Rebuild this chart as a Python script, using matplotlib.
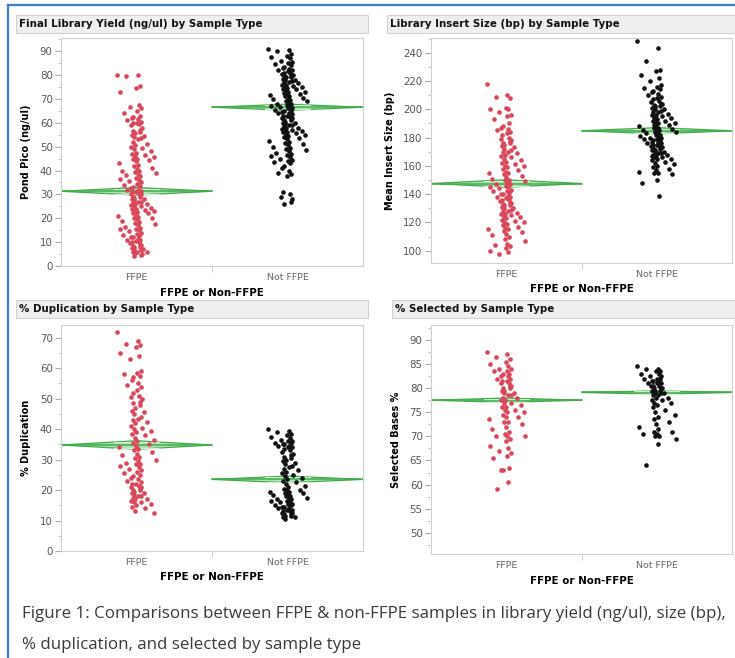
import numpy as np
import matplotlib.pyplot as plt
from matplotlib.patches import Rectangle, Polygon
from matplotlib.lines import Line2D
from matplotlib.ticker import FixedLocator

# groups on the x axis
groups = ["FFPE", "Not FFPE"]

# Final library yield (ng/ul)
yield_ffpe = [80.2, 80, 79.5, 75.5, 74.5, 73, 67.5, 66.5, 66, 65, 64, 63, 62.5, 62, 61.5, 61, 60.5, 60, 60,
              59.5, 59, 58, 57, 56.5, 56, 55.5, 55, 54.5, 54, 53.5, 53, 52, 51, 50.5, 50, 49.5, 49, 48, 47.5,
              47, 46.5, 46, 45.5, 45, 45, 44.5, 44, 43, 42.5, 42, 41, 40.5, 40, 40, 39.5, 39, 38.5, 38, 37.5,
              37, 36.5, 36, 35.5, 35, 34.5, 34, 33.5, 33, 32.5, 32, 32, 31.5, 31, 31, 30.5, 30, 30, 29.5, 29,
              29, 28.5, 28, 28, 27.5, 27, 27, 26.5, 26, 26, 25.5, 25, 25, 24.5, 24, 24, 23.5, 23, 23, 22.5,
              22, 22, 21.5, 21, 20.5, 20, 20, 19.5, 19, 18.5, 18, 17.5, 17, 16.5, 16, 15.5, 15.5, 15, 14.5,
              14, 13.5, 13, 12.5, 12, 12, 11.5, 11, 11, 10.5, 10, 10, 9.5, 9, 9, 8.5, 8, 8, 7.5, 7, 7, 6.5,
              6, 6, 6, 5.5, 5, 4.5, 4]
yield_non = [91, 90.5, 90, 89, 88, 87.5, 87, 86, 85.5, 85, 84.5, 84, 83.5, 83, 82.5, 82, 82, 81.5, 81, 81,
             80.5, 80, 80, 79.5, 79, 79, 78.5, 78, 78, 77.5, 77, 77, 76.5, 76, 76, 75.5, 75, 75, 74.5, 74, 74,
             73.5, 73, 73, 72.5, 72, 72, 71.5, 71, 71, 70.5, 70, 70, 69.5, 69, 69, 68.5, 68, 68, 67.5, 67, 67,
             66.5, 66, 66, 65.5, 65, 65, 64.5, 64, 64, 63.5, 63, 63, 62.5, 62, 62, 61.5, 61, 61, 60.5, 60, 60,
             59.5, 59, 59, 58.5, 58, 58, 57.5, 57, 57, 56.5, 56, 56, 55.5, 55, 55, 54.5, 54, 53.5, 53, 52.5,
             52, 51.5, 51, 50.5, 50, 49.5, 49, 48.5, 48, 47.5, 47, 46.5, 46, 45.5, 45, 44.5, 44, 43.5, 43,
             42, 41, 40, 39, 38.5, 37.5, 31, 30, 29, 28, 27, 26]

# Mean insert size (bp)
insert_ffpe = [218, 210, 209, 208, 201, 200, 200, 198, 196, 195, 193, 190, 188, 187, 186, 185, 184, 183, 182,
               180, 179, 178, 177, 176, 176, 175, 174, 173, 172, 171, 170, 170, 169, 168, 167, 166, 165, 164,
               163, 162, 161, 160, 160, 159, 158, 157, 156, 155, 155, 154, 153, 152, 151, 150, 150, 149, 148,
               147, 147, 146, 145, 145, 144, 143, 142, 142, 141, 140, 140, 139, 138, 138, 137, 136, 136, 135,
               134, 134, 133, 132, 132, 131, 130, 130, 129, 128, 128, 127, 126, 126, 125, 124, 124, 123, 122,
               121, 120, 120, 119, 118, 117, 116, 115, 115, 114, 113, 112, 111, 110, 108, 107, 105, 104, 103,
               102, 100, 99, 98]
insert_non = [248, 243, 234, 228, 227, 224, 222, 220, 217, 216, 215, 214, 213, 212, 211, 210, 209, 208, 207,
              206, 205, 204, 204, 203, 202, 202, 201, 200, 200, 199, 198, 198, 197, 196, 196, 195, 194, 194,
              193, 192, 192, 191, 190, 190, 189, 189, 188, 188, 187, 187, 186, 186, 185, 185, 184, 184, 183,
              183, 182, 182, 181, 181, 180, 180, 179, 179, 178, 178, 177, 177, 176, 176, 175, 175, 174, 174,
              173, 173, 172, 172, 171, 171, 170, 170, 169, 169, 168, 168, 167, 167, 166, 166, 165, 165, 164,
              163, 162, 161, 160, 159, 158, 157, 156, 155, 155, 154, 150, 148, 139]

# % duplication
dup_ffpe = [72, 69, 68, 67.5, 67, 65, 64, 63, 59, 58.5, 58, 57.5, 57, 56, 55, 54.5, 54, 53, 52, 51, 50.5, 50,
            49, 48.5, 48, 47, 46, 45.5, 45, 44, 43.5, 43, 42.5, 42, 41, 40.5, 40, 39.5, 39, 38.5, 38, 37, 36.5,
            36, 35.5, 35, 34.5, 34, 33.5, 33, 32.5, 32, 31.5, 31, 30.5, 30, 29.5, 29, 28.5, 28.5, 28, 27.5, 27,
            26.5, 26, 25.5, 25, 24.5, 24, 23.5, 23, 22.5, 22, 22, 21.5, 21, 21, 20.5, 20, 20, 19.5, 19, 19,
            18.5, 18, 18, 17.5, 17, 17, 16.5, 16, 16, 15.5, 15, 14.5, 14, 13, 12.5]
dup_non = [40, 39.5, 39, 38.5, 38, 37.5, 37, 36.5, 36, 36, 35.5, 35.5, 35, 35, 34.5, 34.5, 34, 34, 33.5, 33,
           32.5, 32, 31.5, 31, 30.5, 30, 29.5, 29, 28.5, 28, 27.5, 27, 26.5, 26, 25.5, 25, 24.5, 24, 23.5, 23,
           22.5, 22, 21.5, 21, 20.5, 20, 20, 19.5, 19.5, 19, 19, 18.5, 18.5, 18, 18, 17.5, 17.5, 17, 17, 16.5,
           16.5, 16, 16, 15.5, 15.5, 15, 15, 14.5, 14.5, 14, 14, 13.5, 13.5, 13, 13, 12.5, 12.5, 12, 12, 11.5,
           11.5, 11, 11, 10.5]

# selected bases %
sel_ffpe = [87.5, 87, 86.5, 86, 85.5, 85, 84.5, 84, 84, 83.5, 83.5, 83, 83, 82.5, 82.5, 82, 82, 81.5, 81.5,
            81, 81, 80.5, 80.5, 80, 80, 79.5, 79.5, 79, 79, 78.5, 78.5, 78, 78, 77.5, 77.5, 77, 77, 76.5, 76,
            76, 75.5, 75.5, 75, 75, 74.5, 74, 74, 73.5, 73, 73, 72.5, 72, 71.5, 71, 70.5, 70, 70, 70, 69.5, 69,
            68, 67.5, 67, 66.5, 66, 65.5, 63.5, 63, 63, 60.5, 59]
sel_non = [84.5, 84, 84, 83.5, 83.5, 83, 83, 82.5, 82.5, 82, 82, 82, 81.5, 81.5, 81.5, 81, 81, 81, 80.5, 80.5,
           80.5, 80, 80, 80, 79.5, 79.5, 79.5, 79, 79, 79, 78.5, 78.5, 78, 78, 77.5, 77.5, 77, 77, 76.5, 76,
           75.5, 75, 74.5, 74, 73.5, 73, 72.5, 72, 71.5, 71, 71, 70.5, 70.5, 70, 70, 69.5, 68.5, 64]

# group means and diamond half heights
yield_means = [31.3, 66.5]
yield_ci = [1.6, 1.3]
insert_means = [147.5, 184.8]
insert_ci = [2.6, 2.2]
dup_means = [34.8, 23.5]
dup_ci = [1.4, 1.1]
sel_means = [77.5, 79.1]
sel_ci = [0.45, 0.35]

titles = ["Final Library Yield (ng/ul) by Sample Type", "Library Insert Size (bp) by Sample Type",
          "% Duplication by Sample Type", "% Selected by Sample Type"]
ylabels = ["Pond Pico (ng/ul)", "Mean Insert Size (bp)", "% Duplication", "Selected Bases %"]
caption_1 = "Figure 1: Comparisons between FFPE & non-FFPE samples in library yield (ng/ul), size (bp),"
caption_2 = "% duplication, and selected by sample type"

W, H = 735, 658
fig = plt.figure(figsize=(W / 100, H / 100), dpi=100)

RED = "#d9475a"
BLACK = "#111111"
GREEN = "#3fae49"


def px(x0, y0, x1, y1):
    return [x0 / W, 1 - y1 / H, (x1 - x0) / W, (y1 - y0) / H]


def offsets(n):
    # deterministic spread: a tight core column plus a looser fringe
    out = []
    for i in range(n):
        u = ((i * 0.6180339887) % 1) * 2 - 1
        out.append(u * (0.13 if i % 5 in (0, 2) else 0.035))
    return np.array(out)


def panel(rect, bar, title, ylabel, data, means, ci, ylim, major, minor):
    ax = fig.add_axes(px(*rect))
    # title bar
    bx0, by0, bx1, by1 = bar
    fig.patches.append(Rectangle((bx0 / W, 1 - by1 / H), (bx1 - bx0) / W, (by1 - by0) / H,
                                 transform=fig.transFigure, facecolor="#efefef",
                                 edgecolor="#d2d2d2", lw=0.8))
    fig.text((bx0 + 3) / W, 1 - (by0 + by1) / 2 / H, title, fontsize=7.4, fontweight="bold",
             va="center", ha="left", color="#111111")

    for g, (vals, col) in enumerate(zip(data, [RED, BLACK])):
        vals = np.array(vals)
        m, c = means[g], ci[g]
        ax.add_patch(Polygon([(g - 0.5, m), (g, m + c), (g + 0.5, m), (g, m - c)], closed=True,
                             facecolor="#b3e0b5", edgecolor=GREEN, lw=0.9, zorder=2))
        ax.plot([g - 0.5, g + 0.5], [m, m], color=GREEN, lw=1.1, zorder=2)
        ov = c / np.sqrt(2)
        for s in (1, -1):
            ax.plot([g - 0.15, g + 0.15], [m + s * ov, m + s * ov], color="#e8f6e8", lw=0.6, zorder=2)
        ax.scatter(g + offsets(len(vals)), vals, s=11, color=col, lw=0, zorder=3)

    ax.set_xlim(-0.5, 1.5)
    ax.set_ylim(*ylim)
    ax.set_xticks([0, 1])
    ax.set_xticklabels(groups, fontsize=6.8, color="#666666")
    ax.tick_params(axis="x", length=0, pad=5)
    ax.xaxis.set_minor_locator(FixedLocator([0.5]))
    ax.tick_params(axis="x", which="minor", length=4, color="#c8c8c8")
    ax.set_yticks(major)
    ax.yaxis.set_minor_locator(FixedLocator(minor))
    ax.tick_params(axis="y", labelsize=7.4, labelcolor="#555555", length=4, color="#aaaaaa", pad=2)
    ax.tick_params(axis="y", which="minor", length=2, color="#bbbbbb")
    for sp in ax.spines.values():
        sp.set_color("#cfcfcf")
        sp.set_linewidth(0.8)
    ax.set_ylabel(ylabel, fontsize=7, fontweight="bold", labelpad=6)
    ax.set_xlabel("FFPE or Non-FFPE", fontsize=7.4, fontweight="bold", labelpad=4)
    return ax


panel((61, 38, 363, 266), (16, 15, 368, 33), titles[0], ylabels[0],
      [yield_ffpe, yield_non], yield_means, yield_ci, (0, 95.5),
      range(0, 91, 10), np.arange(5, 96, 10))
panel((431, 38, 732, 263), (387, 15, 735, 33), titles[1], ylabels[1],
      [insert_ffpe, insert_non], insert_means, insert_ci, (91.3, 250.4),
      range(100, 241, 20), np.arange(110, 251, 20))
panel((61, 325, 363, 551), (16, 300, 368, 318), titles[2], ylabels[2],
      [dup_ffpe, dup_non], dup_means, dup_ci, (0, 74.2),
      range(0, 71, 10), np.arange(5, 75, 10))
panel((431, 325, 732, 554), (392, 300, 735, 318), titles[3], ylabels[3],
      [sel_ffpe, sel_non], sel_means, sel_ci, (45.6, 93.1),
      range(50, 91, 5), np.arange(47.5, 93, 5))

# blue frame on the top and left edge
fig.add_artist(Line2D([8 / W, 8 / W], [0, 1 - 5 / H], transform=fig.transFigure, color="#3f82c4", lw=1.6))
fig.add_artist(Line2D([8 / W, 1], [1 - 5 / H, 1 - 5 / H], transform=fig.transFigure, color="#3f82c4", lw=1.6))

fig.text(22 / W, 1 - 614 / H, caption_1, fontsize=12.2, family="Open Sans", color="#3a3a3a",
         va="center", ha="left")
fig.text(22 / W, 1 - 645 / H, caption_2, fontsize=12.2, family="Open Sans", color="#3a3a3a",
         va="center", ha="left")

fig.savefig("out.png", dpi=100)
plt.close()
